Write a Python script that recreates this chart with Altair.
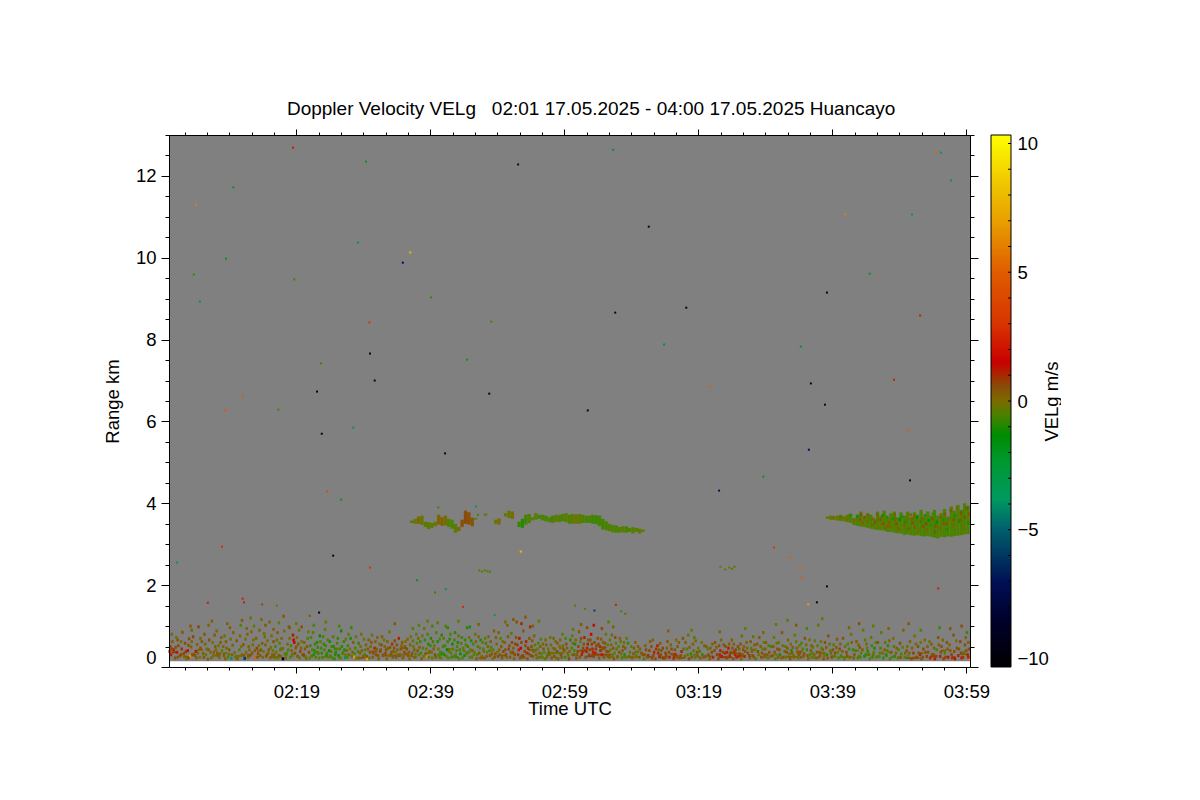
import altair as alt
import pandas as pd

FONT = "Liberation Sans"
T_MAX = 119.55
R_MAX = 13
V_MIN, V_MAX = -10.33, 10.33

stops_v = [-10.33, -8.5, -7, -5, -3.8, -2.4, -1.3, -0.5, 0, 0.6, 1.0, 1.5, 3, 5, 7, 8.5, 10.33]
stops_c = ["#000000", "#00002c", "#001055", "#005f6c", "#009a60", "#009830", "#008c00", "#508000",
           "#7a6a00", "#8a4a08", "#a82800", "#c80000", "#d83400", "#e05c00", "#e8a000", "#f0c800", "#ffff00"]

x_major = [19, 39, 59, 79, 99, 119]
x_labels = ["02:19", "02:39", "02:59", "03:19", "03:39", "03:59"]
x_ticks = [2.33, 5.67, 9, 12.33, 15.67, 19, 22.33, 25.67, 29, 32.33, 35.67, 39, 42.33, 45.67, 49,
           52.33, 55.67, 59, 62.33, 65.67, 69, 72.33, 75.67, 79, 82.33, 85.67, 89, 92.33, 95.67, 99,
           102.33, 105.67, 109, 112.33, 115.67, 119]
y_ticks = [0, 0.5, 1, 1.5, 2, 2.5, 3, 3.5, 4, 4.5, 5, 5.5, 6, 6.5, 7, 7.5, 8, 8.5, 9, 9.5, 10, 10.5, 11,
           11.5, 12, 12.5, 13]
bar_labels = [-10, -5, 0, 5, 10]
bar_ticks = [-10, -9, -8, -7, -6, -5, -4, -3, -2, -1, 0, 1, 2, 3, 4, 5, 6, 7, 8, 9, 10]

# isolated echoes: minutes after 02:00, range km, velocity
sparse = [(18.5,12.69,2),(29.4,12.35,-2),(52.1,12.28,-8),(66.3,12.64,-2),(114.5,12.57,5),(115.2,12.57,-3),
 (116.7,11.89,-3),(9.6,11.72,-2),(4.0,11.3,6),(100.9,11.06,6),(110.9,11.06,-3),(71.6,10.76,-10),(28.2,10.37,-4),
 (36,10.13,8),(34.9,9.88,-7),(8.5,9.98,-2),(3.7,9.59,-1),(104.6,9.61,-2),(18.7,9.47,-1),(4.6,8.93,-4),(39.1,9.03,-1),
 (77.2,8.78,-9),(98.2,9.15,-9),(66.6,8.66,-9),(29.9,8.42,3),(112.1,8.59,2),(48.1,8.44,-1),(30,7.66,-9),(73.9,7.88,-2),
 (94.3,7.83,-2),(22.7,7.42,-1),(44.5,7.51,-2),(108.2,7.02,2),(30.7,7.0,-10),(95.8,6.93,-9),(22.1,6.73,-9),(47.8,6.68,-10),
 (80.7,6.85,5),(97.9,6.41,-8),(11,6.61,5),(8.4,6.27,5),(62.5,6.27,-9),(16.3,6.29,-1),(22.8,5.7,-9),(27.5,5.85,-3),
 (110.3,5.78,5),(95.5,5.31,-7),(41.2,5.22,-9),(82.1,4.31,-7),(88.7,4.65,-2),(110.6,4.56,-9),(23.6,4.29,4),(25.7,4.09,-2),
 (7.9,2.94,2.5),(24.5,2.72,-9),(90.3,2.92,3),(1.2,2.55,-3),(92.7,2.68,5),(30,2.43,3),(94.2,2.43,5),(94.5,2.19,5),
 (95.4,1.53,7),(96.7,1.58,-9),(98.2,1.97,-10),(114.8,1.92,2),(41.3,1.9,-4),(37,2.12,-2),(39.7,1.82,-1),(52.5,2.82,8),
 (46.3,2.36,-0.5),(46.7,2.33,-0.5),(47.1,2.36,-0.7),(47.5,2.34,-0.4),(47.9,2.33,-1),(82.3,2.45,0),(83,2.38,-0.6),
 (83.6,2.43,-0.3),(84,2.4,0.2),(84.4,2.45,-0.6),(45.8,3.92,-3),(46.1,3.72,-1),(40.2,3.9,-1),(11.0,1.67,2),(11.2,1.58,2),
 (5.8,1.57,2),(13.9,1.53,0.6),(16.1,1.5,-0.5),(22.4,1.33,-9.5),(21,1.25,0.4),(43.9,1.47,2.5),(48.6,1.27,-3.5),
 (60.6,1.5,-0.6),(62.1,1.42,-0.4),(63.5,1.38,-6),(66.7,1.52,2),(67.5,1.36,-1),(68.1,1.3,0.3)]

# clutter below about 1.3 km: minutes, km, m/s
noise_a = [(0.2,0.5,0.6),(0.3,0.3,1.3),(0.5,0.62,0.3),(0.7,0.42,1.0),(0.9,0.22,0.5),(1.1,0.72,-0.2),(1.2,0.36,1.3),
 (1.4,0.52,0.6),(1.6,0.27,0.2),(1.9,0.44,0.9),(2.0,0.85,0.4),(2.2,0.33,0.6),(2.4,0.58,0.5),(2.6,0.2,-0.1),(2.8,0.4,1.4),
 (3.0,0.69,0.5),(3.1,0.26,6.5),(3.3,0.49,0.2),(3.6,0.74,0.6),(3.7,0.3,0.4),(4.0,0.38,1.4),(4.2,0.55,0.1),(4.4,0.98,0.7),
 (4.6,0.24,-0.2),(4.9,0.62,0.4),(5.1,0.33,0.2),(5.3,0.8,0.4),(5.6,0.44,-0.1),(5.8,0.19,0.3),(6.0,0.66,0.5),(6.2,0.36,0.1),
 (6.4,1.12,0.3),(6.6,0.27,-0.3),(6.9,0.5,0.3),(7.1,0.88,0.1),(7.2,0.34,0.4),(7.5,0.23,0.0),(7.7,0.6,0.3),(7.9,0.4,-0.4),
 (8.2,0.28,0.4),(8.3,0.76,0.0),(8.6,0.46,0.2),(8.9,0.31,-0.6),(9.1,0.96,0.3),(9.3,0.21,-4),(9.5,0.53,0.1),(9.8,0.35,-0.3),
 (3.5,0.3,0.5),(3.9,0.28,0.4),(6.7,0.36,0.3),(7.3,0.28,0.2),(0.1,0.38,0.7),(1.0,0.48,0.5),(2.5,0.37,0.9),
 (0.4,0.44,0.8),(0.4,0.8,0.2),(1.3,0.24,0.3),(1.3,0.66,0.5),(1.8,0.3,0.7),(1.8,0.62,0.0),(2.3,0.25,0.1),(2.9,0.53,0.4),
 (2.9,0.22,0.6),(3.4,0.62,0.1),(3.4,0.9,0.3),(4.1,0.22,0.3),(4.3,0.34,0.2),(4.7,0.46,0.5),(4.7,0.7,0.1),(5.2,0.24,0.4),
 (5.4,0.56,0.2),(5.5,0.3,-0.2),(5.9,0.42,0.4),(5.9,1.02,0.2),(6.3,0.22,0.1),(6.5,0.6,-0.1),(6.8,0.78,0.3),(7.0,0.42,0.1),
 (7.4,0.52,-0.2),(7.6,0.32,0.3),(7.8,0.72,0.2),(8.1,0.5,0.0),(8.4,0.2,0.2),(8.5,0.62,0.3),(8.8,0.24,-0.2),(9.0,0.42,0.4),
 (9.2,0.68,-0.1),(9.4,0.3,0.3),(9.6,0.84,0.2),(9.9,0.24,0.0)]
noise_b = [(10.1,0.64,0.4),(10.3,0.26,0.0),(10.5,0.42,-0.3),(10.7,1.02,-0.5),(10.9,0.3,0.2),(11.1,0.55,0.4),(11.3,0.21,-6),
 (11.5,0.36,-0.2),(11.7,0.8,0.2),(11.9,0.5,0.1),(12.1,0.28,0.5),(12.2,1.2,-0.2),(12.4,0.34,0.4),(12.6,0.66,0.1),(12.9,0.24,5),
 (13.1,0.46,0.7),(13.3,0.33,0.4),(13.5,0.9,0.2),(13.6,0.28,0.4),(13.9,0.58,0.3),(14.1,0.38,-0.4),(14.3,0.74,0.0),(14.5,0.26,0.3),
 (14.8,0.34,0.2),(15.0,1.1,0.1),(15.2,0.48,-0.3),(15.4,0.3,0.1),(15.6,0.62,0.4),(15.8,0.22,-0.6),(16.0,0.36,-0.2),(16.2,0.84,0.3),
 (16.4,0.28,0.4),(16.6,0.42,-0.5),(16.8,0.7,0.1),(17.0,0.2,-9.5),(17.3,0.32,-0.7),(17.5,0.3,-0.4),(17.7,0.56,0.0),(17.9,0.98,0.4),
 (18.1,0.24,-0.6),(18.3,0.4,0.2),(18.5,0.78,1.4),(18.6,0.66,1.5),(18.7,0.6,1.6),(18.8,0.34,0.4),(19.0,0.5,0.2),(19.2,0.26,0.5),
 (19.4,0.9,-0.2),(19.6,0.38,0.6),(19.8,0.62,-0.3),(14.6,0.3,0.4),(16.7,0.26,0.2),(17.6,0.34,-0.5),
 (10.2,0.2,0.2),(10.6,0.76,0.1),(10.8,0.5,-0.2),(11.2,0.28,0.3),(11.4,0.68,-0.1),(11.8,0.24,0.2),(12.0,0.42,0.2),(12.3,0.86,0.1),
 (12.5,0.54,-0.1),(12.8,0.4,0.3),(13.0,0.7,0.2),(13.2,0.24,0.5),(13.4,0.52,-0.1),(13.7,0.42,0.3),(14.0,0.24,0.1),(14.2,0.82,-0.2),
 (14.4,0.54,0.2),(14.7,0.64,-0.1),(14.9,0.42,0.4),(15.1,0.22,0.1),(15.3,0.76,0.0),(15.5,0.4,-0.2),(15.7,0.3,0.3),(15.9,0.5,-0.5),
 (16.1,0.66,0.1),(16.3,0.22,-0.2),(16.5,0.58,-0.4),(16.9,0.44,0.2),(17.2,0.88,0.0),(17.4,0.22,0.2),(17.8,0.42,-0.6),(18.0,0.7,-0.1),
 (18.2,0.52,-0.4),(18.4,0.28,-0.2),(18.9,0.46,0.3),(19.1,0.72,0.0),(19.3,0.56,0.4),(19.5,0.22,-0.3),(19.7,0.46,0.2),(19.9,0.3,-0.2)]
noise_c = [(20.1,0.3,0.7),(20.3,0.44,0.3),(20.5,0.2,-0.2),(20.7,0.7,-0.6),(20.9,0.36,0.6),(21.1,0.52,-0.8),(21.3,0.27,-1.0),
 (21.5,0.84,-0.4),(21.7,0.4,-1.1),(21.9,0.24,-0.6),(22.1,0.6,-1.2),(22.3,0.33,-0.7),(22.5,0.76,-1.4),(22.7,0.46,-0.9),(22.9,0.23,-0.5),
 (23.1,0.56,-1.0),(23.3,0.92,-0.5),(23.5,0.3,-1.2),(23.7,0.66,-0.6),(23.9,0.4,-1.3),(24.1,0.27,-0.7),(24.3,0.5,-0.9),(24.5,0.74,-0.4),
 (24.7,0.2,-1.0),(24.9,0.36,-1.2),(25.1,0.58,-0.6),(25.3,0.28,-1.3),(25.5,0.44,-0.7),(25.7,0.88,-1.5),(25.9,0.33,-0.4),(26.1,0.62,-1.0),
 (26.3,0.23,-3.5),(26.5,0.4,0.2),(26.7,0.52,-0.8),(26.9,0.3,0.1),(27.1,0.7,-1.2),(27.4,0.36,0.3),(27.6,0.25,7),(27.8,0.46,-0.6),
 (28.0,0.22,0.0),(28.3,0.58,-1.1),(28.5,0.34,0.3),(28.7,0.8,0.0),(29.0,0.26,0.4),(29.3,0.42,-0.4),(29.6,0.2,7),(29.8,0.66,0.2),
 (21.6,0.3,-1.1),(23.6,0.34,-0.8),(24.8,0.3,-1.1),(25.4,0.24,-0.6),
 (20.2,0.6,0.2),(20.4,0.24,-0.3),(20.6,0.5,0.3),(20.8,0.86,-0.3),(21.0,0.22,-0.1),(21.2,0.72,-0.5),(21.4,0.42,-0.6),(21.8,0.56,-0.9),
 (22.0,0.36,-0.4),(22.2,0.48,-1.0),(22.4,0.22,-0.3),(22.6,0.62,-0.4),(22.8,0.34,-1.0),(23.0,0.74,-0.8),(23.2,0.42,-0.5),(23.4,0.52,-0.7),
 (23.8,0.24,-0.3),(24.0,0.62,-1.2),(24.2,0.38,-0.4),(24.4,0.22,-0.8),(24.6,0.5,-1.1),(25.0,0.44,-0.3),(25.2,0.7,-1.0),(25.6,0.22,-0.4),
 (25.8,0.5,-1.1),(26.0,0.36,-0.5),(26.2,0.42,-1.2),(26.4,0.68,-0.4),(26.6,0.24,-0.7),(26.8,0.8,-0.3),(27.0,0.44,-0.2),(27.3,0.26,-0.5),
 (27.5,0.6,0.2),(27.7,0.32,-0.7),(27.9,0.74,-0.3),(28.2,0.38,-0.6),(28.4,0.22,0.2),(28.6,0.5,-0.2),(28.8,0.4,0.3),(29.1,0.68,-0.3),
 (29.2,0.3,-0.7),(29.4,0.54,0.2),(29.5,0.26,0.4),(29.7,0.44,0.3),(29.9,0.22,-0.2)]
noise_d = [(30.0,0.36,0.5),(30.2,0.6,0.4),(30.4,0.24,0.3),(30.7,0.46,1.1),(30.9,0.3,0.4),(31.1,0.72,0.1),(31.3,0.2,0.2),(31.5,0.38,0.6),
 (31.7,0.54,0.7),(31.9,0.28,0.4),(32.1,0.66,-0.2),(32.3,0.34,0.5),(32.5,0.2,0.1),(32.7,0.46,0.4),(32.9,0.86,-0.3),(33.1,0.3,0.4),
 (33.3,0.56,0.9),(33.5,0.38,0.2),(33.7,0.64,0.6),(33.9,0.24,0.4),(34.1,0.42,0.2),(34.3,0.7,1.1),(34.5,0.3,0.5),(34.7,0.52,0.1),
 (34.9,0.22,0.3),(35.1,0.36,0.5),(35.3,0.62,0.0),(35.5,0.44,0.6),(35.7,0.28,0.4),(35.9,0.2,0.1),(36.1,0.74,-0.3),(36.3,0.34,0.4),
 (36.5,0.5,-0.4),(36.7,0.24,0.2),(36.9,0.8,-0.5),(37.1,0.4,0.4),(37.3,0.3,-0.1),(37.5,0.62,-1.0),(37.7,0.2,0.3),(37.9,0.46,-0.6),
 (38.1,0.94,-0.2),(38.3,0.32,0.4),(38.5,0.26,6),(38.7,0.56,-1.1),(38.9,0.38,0.3),(39.1,0.7,-1.2),(39.3,0.22,-0.5),(39.5,0.44,0.2),
 (39.7,0.3,0.5),(39.9,0.84,-0.5),(32.0,0.3,0.4),(33.2,0.36,0.4),(34.4,0.28,0.5),(35.4,0.32,0.4),(36.2,0.28,0.4),
 (30.1,0.5,0.1),(30.3,0.78,-0.1),(30.5,0.34,0.6),(30.8,0.62,0.2),(31.0,0.44,0.3),(31.2,0.28,0.5),(31.4,0.56,-0.1),(31.6,0.42,0.4),
 (31.8,0.74,0.3),(32.2,0.5,0.1),(32.4,0.42,0.5),(32.6,0.62,0.2),(32.8,0.28,-0.1),(33.0,0.48,0.3),(33.4,0.24,0.3),(33.6,0.46,0.5),
 (33.8,0.36,-0.2),(34.0,0.54,0.4),(34.2,0.3,0.1),(34.6,0.44,0.5),(34.8,0.6,0.3),(35.0,0.28,0.2),(35.2,0.5,0.4),(35.6,0.68,0.1),
 (35.8,0.36,0.3),(36.0,0.54,0.1),(36.4,0.64,-0.3),(36.6,0.42,0.3),(36.8,0.32,-0.6),(37.0,0.58,-0.3),(37.2,0.7,0.1),(37.4,0.48,0.2),
 (37.6,0.34,-0.8),(37.8,0.76,-0.2),(38.0,0.26,-0.6),(38.2,0.66,-0.8),(38.4,0.44,-0.3),(38.6,0.8,-0.6),(38.8,0.24,-0.2),(39.0,0.52,-0.9),
 (39.2,0.36,-0.2),(39.4,0.62,-0.9),(39.6,0.52,-0.3),(39.8,0.24,0.3)]
noise_e = [(40.1,0.62,-1.1),(40.3,0.24,-0.4),(40.5,0.36,-0.8),(40.7,0.78,-1.2),(40.9,0.5,-0.6),(41.1,0.3,-1.2),(41.3,1.0,-0.5),
 (41.5,0.42,-1.3),(41.7,0.22,-0.5),(41.9,0.68,-1.1),(42.1,0.34,-0.7),(42.3,0.56,-1.4),(42.5,0.26,-0.3),(42.7,0.84,-1.1),(42.9,0.4,-0.8),
 (43.1,0.6,-1.2),(43.3,0.2,-0.3),(43.5,0.32,-1.4),(43.7,0.72,-0.8),(43.9,0.46,-0.6),(44.1,0.28,-1.6),(44.3,0.54,-0.5),(44.5,0.96,-1.2),
 (44.7,0.36,-0.4),(44.9,0.24,-0.6),(45.1,0.64,-1.2),(45.3,0.4,0.2),(45.5,0.3,-0.5),(45.7,0.8,-0.2),(45.9,0.2,0.3),(46.1,0.5,-0.6),
 (46.3,0.34,0.4),(46.5,0.66,-1.1),(46.7,0.26,0.0),(46.9,0.44,-0.5),(47.1,0.22,0.3),(47.3,0.58,-1.0),(47.5,0.36,-0.4),(47.7,0.74,0.1),
 (47.9,0.28,0.5),(48.1,0.48,-0.6),(48.3,0.2,-0.2),(48.5,0.88,0.3),(48.7,0.32,0.4),(48.9,0.56,0.1),(49.1,0.26,0.6),(49.3,0.42,0.2),
 (49.5,0.7,-0.4),(49.7,0.22,0.4),(49.9,0.38,0.6),
 (40.2,0.44,-0.3),(40.4,0.68,-0.6),(40.6,0.22,-0.2),(40.8,0.34,-1.0),(41.0,0.7,-0.3),(41.2,0.52,-0.9),(41.4,0.26,-0.4),(41.6,0.62,-0.7),
 (41.8,0.38,-0.3),(42.0,0.8,-0.6),(42.2,0.24,-0.9),(42.4,0.44,-0.3),(42.6,0.66,-0.8),(42.8,0.3,-0.4),(43.0,0.5,-0.6),(43.2,0.76,-0.3),
 (43.4,0.42,-0.9),(43.6,0.58,-0.4),(43.8,0.22,-0.6),(44.0,0.4,-0.2),(44.2,0.66,-1.0),(44.4,0.32,-0.3),(44.6,0.5,-0.9),(44.8,0.72,-0.2),
 (45.0,0.42,-0.6),(45.2,0.24,-0.2),(45.4,0.56,-0.7),(45.6,0.36,-0.2),(45.8,0.62,0.2),(46.0,0.3,-0.5),(46.2,0.74,0.1),(46.4,0.46,-0.4),
 (46.6,0.22,0.2),(46.8,0.6,-0.2),(47.0,0.38,0.1),(47.2,0.7,-0.3),(47.4,0.26,0.3),(47.6,0.5,0.2),(47.8,0.4,-0.6),(48.0,0.62,0.3),
 (48.2,0.32,0.4),(48.4,0.42,-0.2),(48.6,0.24,0.5),(48.8,0.72,0.2),(49.0,0.36,-0.3),(49.2,0.84,0.3),(49.4,0.3,0.4),(49.6,0.5,0.3),(49.8,0.62,0.1)]
noise_f = [(50.1,0.6,0.2),(50.3,0.3,0.6),(50.5,1.02,0.2),(50.7,0.44,0.7),(50.9,0.24,0.4),(51.1,0.82,-0.3),(51.3,0.36,0.6),(51.5,0.2,0.1),
 (51.7,0.56,0.8),(51.9,1.1,0.5),(52.1,0.3,0.9),(52.3,0.7,1.4),(52.5,0.46,1.5),(52.7,0.24,0.5),(52.9,0.88,0.4),(53.1,0.38,0.7),
 (53.3,0.62,1.1),(53.5,0.2,0.4),(53.7,0.32,0.6),(53.9,0.98,1.0),(54.1,0.5,0.5),(54.3,0.26,0.4),(54.5,0.76,0.2),(54.7,0.4,-0.4),
 (54.9,0.22,-0.2),(55.1,0.58,-0.8),(55.3,0.34,0.3),(55.5,0.68,-0.5),(55.7,0.24,-0.4),(55.9,0.44,0.3),(56.1,0.2,-0.5),(56.3,0.54,0.2),
 (56.5,0.3,-1.0),(56.7,0.36,0.4),(56.9,0.72,-0.6),(57.1,0.22,0.4),(57.3,0.46,-0.3),(57.5,0.26,0.5),(57.7,0.62,0.2),(57.9,0.38,0.6),
 (58.1,0.2,0.3),(58.3,0.5,-0.2),(58.5,0.3,0.5),(58.7,0.8,-0.4),(58.9,0.42,0.4),(59.1,0.24,-1.0),(59.3,0.56,0.4),(59.5,0.34,0.2),
 (59.7,0.2,0.7),(59.9,0.66,-1.2),(52.2,0.42,1.2),(53.4,0.34,0.8),(52.8,0.28,0.6),(53.0,0.24,0.5),
 (50.2,0.42,0.4),(50.4,0.24,0.2),(50.6,0.74,0.3),(50.8,0.52,0.5),(51.0,0.36,0.2),(51.2,0.6,0.6),(51.4,0.46,0.3),(51.6,0.3,0.5),
 (51.8,0.72,0.4),(52.0,0.54,0.8),(52.4,0.22,0.4),(52.6,0.6,0.6),(53.2,0.52,0.5),(53.6,0.46,0.9),(53.8,0.7,0.4),(54.0,0.28,0.6),
 (54.2,0.64,0.3),(54.4,0.38,0.2),(54.6,0.54,-0.2),(54.8,0.3,0.2),(55.0,0.44,-0.4),(55.2,0.24,0.1),(55.4,0.5,0.2),(55.6,0.32,-0.6),
 (55.8,0.56,0.1),(56.0,0.36,-0.3),(56.2,0.66,0.1),(56.4,0.24,0.2),(56.6,0.44,-0.4),(56.8,0.3,0.2),(57.0,0.54,0.0),(57.2,0.34,-0.2),
 (57.4,0.7,0.2),(57.6,0.44,0.3),(57.8,0.22,-0.2),(58.0,0.58,0.3),(58.2,0.34,-0.3),(58.4,0.66,0.1),(58.6,0.24,0.3),(58.8,0.52,-0.3),
 (59.0,0.4,0.4),(59.2,0.7,-0.6),(59.4,0.46,0.2),(59.6,0.28,-0.4),(59.8,0.38,0.2)]
noise_g = [(60.1,0.46,-0.6),(60.2,0.76,-0.3),(60.4,0.3,0.4),(60.6,0.56,-1.2),(60.8,0.22,0.4),(61.0,0.38,0.7),(61.2,0.86,0.3),(61.4,0.62,-0.4),
 (61.6,0.3,1.1),(61.8,0.46,0.7),(62.0,0.72,1.0),(62.2,0.24,0.5),(62.3,0.38,1.3),(62.5,0.56,1.1),(62.7,0.3,0.7),(62.9,0.66,0.4),
 (63.0,0.8,1.6),(63.2,0.44,1.1),(63.4,0.26,0.6),(63.6,0.34,1.3),(63.8,0.52,0.7),(64.0,0.7,0.4),(64.2,0.22,0.4),(64.4,0.4,1.0),
 (64.6,0.3,1.3),(64.8,0.6,0.3),(65.0,0.46,0.6),(65.2,0.8,-0.2),(65.4,0.26,0.2),(65.6,0.38,0.5),(65.8,0.66,-0.4),(66.0,0.54,0.2),
 (66.2,0.3,-0.4),(66.4,0.2,0.3),(66.6,0.72,0.5),(66.8,0.44,-0.6),(67.0,0.26,-0.3),(67.2,0.36,0.4),(67.4,0.62,-0.6),(67.6,0.22,-0.5),
 (67.8,0.5,0.2),(68.0,0.3,-1.1),(68.2,0.24,-0.4),(68.5,0.58,-1.0),(68.8,0.36,-0.5),(69.1,0.22,0.3),(69.4,0.46,0.5),(69.7,0.28,-0.6),
 (62.4,0.46,1.0),(63.3,0.36,1.2),(64.3,0.5,0.9),(61.7,0.36,1.2),(62.8,0.42,0.7),(63.9,0.3,0.5),(60.9,0.3,0.3),
 (60.3,0.58,0.2),(60.5,0.4,-0.8),(60.7,0.66,0.1),(61.1,0.5,0.5),(61.3,0.24,0.4),(61.5,0.7,0.6),(61.9,0.56,0.5),(62.1,0.4,0.8),
 (62.6,0.66,0.5),(63.1,0.56,0.7),(63.5,0.6,0.6),(63.7,0.44,0.8),(64.1,0.56,0.6),(64.5,0.68,0.3),(64.7,0.44,0.5),(64.9,0.24,0.4),
 (65.1,0.58,0.3),(65.3,0.38,0.6),(65.5,0.54,-0.2),(65.7,0.24,0.3),(65.9,0.42,-0.3),(66.1,0.78,0.1),(66.3,0.46,0.4),(66.5,0.34,-0.2),
 (66.7,0.58,-0.2),(66.9,0.24,0.3),(67.1,0.5,-0.3),(67.3,0.7,0.2),(67.5,0.32,-0.2),(67.7,0.4,0.3),(67.9,0.6,-0.2),(68.1,0.46,0.3),
 (68.3,0.7,-0.2),(68.7,0.26,0.2),(69.0,0.5,-0.4),(69.3,0.32,0.3),(69.6,0.6,0.1),(69.9,0.38,-0.3)]
noise_h = [(70.0,0.5,0.2),(70.2,0.24,0.5),(70.5,0.34,0.4),(70.9,0.2,-0.6),(71.2,0.42,0.6),(71.5,0.28,1.1),(71.8,0.62,0.3),(72.1,0.22,0.7),
 (72.4,0.36,1.2),(72.6,0.2,0.4),(72.9,0.52,1.3),(73.2,0.26,1.0),(73.5,0.4,0.4),(73.8,0.22,1.1),(74.1,0.34,0.7),(74.4,0.62,0.4),
 (74.7,0.24,1.2),(75.0,0.44,0.6),(75.3,0.2,0.5),(75.6,0.3,1.3),(75.9,0.5,0.3),(76.2,0.22,0.6),(76.5,0.38,1.0),(76.7,0.7,0.4),
 (77.0,0.26,0.3),(77.3,0.44,-0.6),(77.6,0.2,0.5),(77.9,0.32,-1.1),(78.2,0.56,0.2),(78.5,0.24,-0.5),(78.8,0.36,0.6),(79.0,0.46,-0.7),
 (79.3,0.22,0.4),(79.6,0.3,-1.1),(79.9,0.52,0.3),(73.0,0.34,1.1),(74.2,0.28,0.7),(75.4,0.24,1.0),(71.0,0.3,0.4),(76.0,0.26,0.4),
 (70.3,0.44,0.3),(70.7,0.3,0.5),(71.1,0.52,0.2),(71.4,0.24,0.4),(71.7,0.4,0.6),(72.0,0.5,0.4),(72.3,0.28,0.6),(72.7,0.44,0.8),
 (73.1,0.42,0.4),(73.4,0.3,0.6),(73.7,0.46,0.7),(74.0,0.22,0.5),(74.3,0.46,0.3),(74.6,0.36,0.6),(74.9,0.54,0.2),(75.2,0.3,0.4),
 (75.5,0.42,0.5),(75.8,0.24,0.4),(76.1,0.6,0.2),(76.4,0.28,0.5),(76.8,0.44,0.1),(77.1,0.6,0.3),(77.4,0.3,-0.3),(77.7,0.48,0.2),
 (78.0,0.24,0.4),(78.3,0.4,-0.4),(78.6,0.64,0.1),(78.9,0.26,0.3),(79.2,0.38,0.2),(79.5,0.6,-0.3),(79.8,0.24,0.4),
 (77.5,0.78,-0.3),(73.3,0.58,0.3),(75.7,0.66,0.1),(72.2,0.66,0.2),(78.4,0.72,-0.4)]
noise_i = [(80.1,0.26,0.4),(80.4,0.44,-0.5),(80.7,0.2,0.3),(81.0,0.36,0.6),(81.2,0.24,1.1),(81.5,0.6,0.4),(81.8,0.3,0.7),(82.0,0.2,0.5),
 (82.3,0.4,1.2),(82.5,0.26,1.3),(82.8,0.54,0.5),(83.0,0.34,1.0),(83.2,0.22,0.6),(83.5,0.46,1.3),(83.7,0.28,0.9),(84.0,0.66,0.3),
 (84.2,0.2,0.5),(84.4,0.38,1.1),(84.7,0.24,1.3),(84.9,0.5,0.4),(85.2,0.32,0.9),(85.4,0.2,0.2),(85.7,0.42,0.5),(85.9,0.26,1.0),
 (86.2,0.6,0.2),(86.4,0.34,0.6),(86.7,0.22,0.3),(86.9,0.46,-0.5),(87.1,0.28,0.6),(87.4,0.54,0.4),(87.6,0.2,-0.2),(87.9,0.38,0.6),
 (88.1,0.72,0.3),(88.4,0.24,0.5),(88.6,0.44,-0.4),(88.9,0.3,0.4),(89.1,0.6,0.2),(89.4,0.22,-0.6),(89.6,0.36,0.4),(89.9,0.5,-1.0),
 (83.3,0.36,1.1),(84.5,0.3,1.0),(85.0,0.26,1.2),(82.2,0.3,1.0),
 (80.2,0.5,0.2),(80.5,0.3,0.5),(80.8,0.46,0.3),(81.1,0.56,0.2),(81.4,0.4,0.5),(81.7,0.48,0.3),(82.1,0.52,0.4),(82.4,0.66,0.2),
 (82.7,0.36,0.7),(83.1,0.5,0.4),(83.4,0.24,0.5),(83.6,0.56,0.3),(83.9,0.36,0.6),(84.1,0.46,0.4),(84.3,0.56,0.2),(84.6,0.42,0.6),
 (84.8,0.32,0.4),(85.1,0.44,0.3),(85.3,0.56,0.4),(85.6,0.3,0.5),(85.8,0.5,0.2),(86.0,0.38,0.4),(86.3,0.46,0.2),(86.6,0.28,0.6),
 (86.8,0.62,0.3),(87.0,0.38,0.2),(87.3,0.24,0.4),(87.5,0.42,-0.2),(87.8,0.56,0.3),(88.0,0.3,-0.3),(88.3,0.5,0.2),(88.5,0.34,0.4),
 (88.8,0.6,-0.2),(89.0,0.44,0.3),(89.3,0.3,0.4),(89.5,0.52,-0.2),(89.8,0.26,0.3),(85.5,0.76,0.1),(87.2,0.74,-0.3),(88.7,0.84,0.1)]
noise_j = [(90.1,0.28,0.4),(90.3,0.72,-0.4),(90.5,0.2,-0.5),(90.8,0.44,0.5),(91.0,0.6,-0.2),(91.2,0.3,-1.1),(91.5,0.84,0.4),(91.7,0.24,0.4),
 (92.0,0.5,-0.5),(92.2,0.36,0.5),(92.4,0.66,0.1),(92.7,0.2,0.4),(92.9,0.4,-1.2),(93.2,0.28,-0.5),(93.4,0.78,-0.4),(93.7,0.46,0.3),
 (93.9,0.22,-0.3),(94.2,0.34,0.4),(94.4,0.58,-0.8),(94.7,0.26,0.3),(94.9,0.7,0.4),(95.2,0.42,-1.0),(95.4,0.2,0.2),(95.7,0.3,-0.6),
 (95.9,0.52,0.4),(96.2,0.24,-0.4),(96.4,0.64,-0.3),(96.7,0.36,0.4),(96.9,1.02,-0.4),(97.2,0.28,0.2),(97.4,0.46,-0.6),(97.7,0.2,0.4),
 (97.9,0.6,0.4),(98.2,0.3,-1.1),(98.4,0.76,0.5),(98.7,0.4,-0.5),(98.9,0.24,0.5),(99.2,0.54,-0.4),(99.4,0.34,0.5),(99.7,0.68,0.3),
 (99.9,0.22,-0.5),(93.0,0.34,0.4),(94.0,0.3,0.4),(96.0,0.34,-0.7),(97.0,0.24,0.3),
 (90.2,0.5,0.2),(90.4,0.36,0.4),(90.7,0.58,-0.2),(90.9,0.24,0.3),(91.1,0.42,0.5),(91.4,0.22,0.2),(91.6,0.52,-0.3),(91.9,0.38,0.3),
 (92.1,0.24,-0.4),(92.3,0.46,0.3),(92.6,0.32,0.2),(92.8,0.56,-0.2),(93.1,0.48,0.3),(93.3,0.24,0.2),(93.6,0.62,-0.3),(93.8,0.36,0.4),
 (94.1,0.52,-0.2),(94.3,0.24,0.3),(94.6,0.44,-0.4),(94.8,0.32,0.5),(95.1,0.54,0.1),(95.3,0.28,0.3),(95.6,0.66,-0.2),(95.8,0.4,0.3),
 (96.1,0.48,-0.5),(96.3,0.3,0.2),(96.6,0.22,0.3),(96.8,0.52,-0.3),(97.1,0.36,0.4),(97.3,0.62,-0.2),(97.6,0.42,0.2),(97.8,0.28,-0.4),
 (98.1,0.48,0.2),(98.3,0.22,0.4),(98.6,0.56,-0.3),(98.8,0.34,0.2),(99.1,0.42,0.4),(99.3,0.26,-0.6),(99.6,0.48,0.3),(99.8,0.36,-0.2)]
noise_k = [(100.1,0.44,0.6),(100.3,0.28,-0.5),(100.6,0.7,0.4),(100.8,0.2,-0.3),(101.1,0.36,0.5),(101.3,0.56,-0.7),(101.6,0.24,0.2),(101.8,0.8,-0.3),
 (102.1,0.42,-1.0),(102.3,0.3,0.4),(102.6,0.62,0.3),(102.8,0.22,-0.6),(103.1,0.48,0.4),(103.3,0.34,-0.5),(103.6,0.9,-0.3),(103.8,0.26,-1.2),
 (104.1,0.56,0.1),(104.3,0.38,-1.1),(104.6,0.2,-0.4),(104.8,0.72,-0.5),(105.1,0.3,-0.8),(105.3,0.46,-1.2),(105.6,0.24,-0.3),(105.8,0.6,0.4),
 (106.1,0.34,-0.6),(106.3,0.84,-0.3),(106.6,0.22,-1.0),(106.8,0.42,0.3),(107.1,0.28,-0.6),(107.3,0.52,-1.1),(107.6,0.2,-0.4),(107.8,0.36,0.4),
 (108.1,0.7,0.0),(108.3,0.26,-1.2),(108.6,0.46,0.3),(108.8,0.22,-0.5),(109.1,0.58,0.5),(109.3,0.32,-0.6),(109.6,0.9,0.2),(109.8,0.24,-0.7),
 (104.0,0.3,-1.0),(105.0,0.24,-1.0),(107.0,0.3,-1.1),(103.0,0.26,-0.8),
 (100.2,0.56,0.2),(100.5,0.38,0.3),(100.9,0.5,-0.2),(101.2,0.28,0.3),(101.5,0.44,-0.5),(101.9,0.6,0.1),(102.2,0.22,0.3),(102.5,0.4,-0.6),
 (102.9,0.54,0.2),(103.2,0.24,-0.4),(103.5,0.42,0.3),(103.9,0.66,-0.4),(104.2,0.46,-0.6),(104.5,0.3,0.2),(104.9,0.52,-0.7),(105.2,0.36,-0.3),
 (105.5,0.6,-0.6),(105.9,0.26,-0.4),(106.2,0.46,-0.8),(106.5,0.34,0.2),(106.9,0.6,-0.4),(107.2,0.4,-0.3),(107.5,0.64,0.1),(107.9,0.24,-0.6),
 (108.2,0.5,-0.4),(108.5,0.34,0.2),(108.9,0.42,-0.6),(109.2,0.24,0.3),(109.5,0.48,-0.3),(109.9,0.34,0.3)]
noise_l = [(110.1,0.4,0.4),(110.3,0.26,-0.5),(110.6,0.62,0.2),(110.8,0.2,0.5),(111.1,0.34,0.7),(111.3,0.76,-0.3),(111.6,0.24,0.6),(111.8,0.5,0.4),
 (112.1,0.3,1.0),(112.3,0.2,0.4),(112.6,0.44,0.6),(112.8,0.66,0.1),(113.1,0.26,0.7),(113.3,0.36,0.4),(113.6,0.22,1.2),(113.8,0.56,0.3),
 (114.1,0.3,0.6),(114.3,0.2,1.3),(114.6,0.42,-0.6),(114.8,0.72,0.4),(115.1,0.26,1.1),(115.3,0.5,0.5),(115.6,0.2,0.7),(115.8,0.34,-0.5),
 (116.1,0.6,0.4),(116.3,0.24,1.3),(116.6,0.4,0.4),(116.8,0.3,0.7),(117.1,0.78,0.5),(117.3,0.2,1.4),(117.6,0.46,0.4),(117.8,0.28,1.0),
 (118.1,0.62,0.6),(118.3,0.22,1.3),(118.6,0.36,-0.6),(118.8,0.54,0.5),(119.1,0.84,-1.0),(119.2,0.3,1.1),(119.4,0.2,6),(119.4,0.44,0.6),
 (110.2,0.5,-0.2),(110.5,0.34,0.3),(110.9,0.46,0.2),(111.2,0.22,0.4),(111.5,0.56,0.1),(111.9,0.34,0.5),(112.2,0.6,-0.2),(112.5,0.24,0.4),
 (112.9,0.36,0.5),(113.2,0.5,0.2),(113.5,0.62,-0.2),(113.9,0.3,0.5),(114.2,0.46,0.3),(114.5,0.26,0.7),(114.9,0.54,0.2),(115.2,0.36,0.5),
 (115.5,0.66,0.1),(115.9,0.24,0.7),(116.2,0.44,0.3),(116.5,0.54,0.2),(116.9,0.22,0.9),(117.2,0.38,0.5),(117.5,0.64,-0.2),(117.9,0.44,0.4),
 (118.2,0.34,0.7),(118.5,0.24,0.9),(118.9,0.72,0.2),(119.0,0.4,0.5),(119.3,0.6,0.3),(119.3,0.24,1.3)]
# taller clutter humps
noise_m = [(3.2,1.0,0.3),(8.7,1.06,0.2),(10.9,1.14,0.4),(11.6,0.94,0.2),(12.7,1.0,-0.3),(13.8,1.16,0.1),(14.4,1.02,0.3),(15.6,0.92,0.2),
 (16.4,1.08,-0.2),(17.1,1.24,0.4),(18.0,0.96,0.3),(19.0,1.06,-0.1),(19.8,0.98,0.5),(21.6,1.02,-0.6),(23.4,1.1,-0.3),(25.4,1.0,-0.5),
 (27.2,0.96,-1.0),(33.7,1.06,0.3),(36.4,0.94,-0.3),(37.3,1.02,-0.6),(38.6,1.12,-0.2),(39.3,1.0,-0.8),(40.1,1.08,-0.3),(41.6,0.96,-1.1),
 (43.2,1.12,-0.6),(44.9,0.98,-1.1),(46.2,1.04,0.2),(50.2,1.1,0.1),(51.4,1.16,0.3),(52.6,1.06,1.1),(53.2,1.22,0.4),(54.3,1.0,0.3),
 (55.2,1.12,-0.3),(60.3,0.92,-0.4),(61.5,1.04,0.3),(62.4,0.96,0.5),(63.4,1.02,1.4),(64.6,0.94,0.6),(65.6,1.1,-0.5),(66.3,0.98,0.2),
 (74.5,0.88,0.2),(78.0,0.9,-0.3),(82.2,0.86,0.2),(86.0,0.94,-0.4),(90.6,1.04,-0.3),(92.3,1.14,-0.5),(93.6,1.02,0.3),(95.2,0.94,-0.6),
 (97.5,1.18,-0.3),(101.5,0.96,0.2),(103.0,1.06,0.5),(105.1,1.0,-0.4),(107.4,0.94,0.2),(110.4,1.06,0.3),(112.2,0.9,-0.6),(115.0,0.96,-1.0),
 (116.6,0.94,0.4),(118.3,1.0,0.5)]

# short runs of adjacent cells close to the ground: start, end, range, velocity
run_a = [0.4, 2.2, 4.2, 6.4, 8.0, 9.8, 11.6, 13.1, 15.0, 16.6, 18.2, 20.0, 21.6, 23.0, 24.6, 26.1, 28.4, 30.2, 31.8, 33.0, 34.6, 36.4,
         38.2, 40.0, 41.4, 42.6, 44.2, 46.2, 47.6, 49.4, 51.0, 52.4, 53.6, 55.2, 56.5, 58.2, 60.0, 61.2, 62.4, 63.0, 64.4, 65.6, 67.5,
         69.4, 71.4, 73.0, 74.8, 76.4, 78.2, 80.4, 82.0, 83.6, 85.0, 86.8, 88.6, 90.4, 92.0, 93.8, 95.6, 97.2, 98.8, 100.0, 102.2, 103.8,
         105.4, 107.2, 108.8, 110.0, 111.8, 113.6, 115.2, 116.8, 118.2]
run_b = [1.3, 3.0, 5.1, 7.6, 8.7, 11.0, 12.4, 13.9, 16.2, 17.2, 19.0, 20.6, 22.4, 24.3, 25.3, 26.8, 29.2, 31.1, 32.6, 34.6, 35.6, 37.0,
         39.0, 40.8, 42.2, 43.2, 45.0, 47.0, 48.3, 50.3, 51.7, 53.0, 54.8, 55.9, 59.0, 59.0, 60.9, 62.0, 63.4, 66.0, 65.3, 66.5, 70.0,
         70.2, 72.0, 74.4, 75.6, 77.0, 79.0, 81.0, 84.0, 84.4, 85.8, 87.6, 89.2, 91.0, 94.0, 94.6, 96.2, 98.0, 99.6, 102.0, 103.0, 104.4,
         106.2, 107.8, 109.4, 112.0, 112.6, 114.4, 116.0, 117.4, 119.0]
run_r = [0.36, 0.25, 0.42, 0.28, 0.34, 0.27, 0.3, 0.4, 0.24, 0.46, 0.32, 0.26, 0.36, 0.25, 0.44, 0.3, 0.22, 0.38, 0.28, 0.28, 0.46, 0.24,
         0.34, 0.3, 0.44, 0.24, 0.36, 0.22, 0.4, 0.28, 0.33, 0.26, 0.42, 0.24, 0.34, 0.46, 0.3, 0.4, 0.26, 0.3, 0.48, 0.24, 0.24,
         0.36, 0.25, 0.23, 0.32, 0.22, 0.3, 0.26, 0.24, 0.34, 0.27, 0.42, 0.24, 0.3, 0.25, 0.38, 0.23, 0.34, 0.26, 0.24, 0.4, 0.3,
         0.25, 0.36, 0.23, 0.22, 0.34, 0.26, 0.4, 0.24, 0.32]
run_v = [0.9, 0.3, 0.2, 0.2, 0.0, -0.2, 0.3, 0.2, 0.4, -0.3, -0.1, 0.3, -0.9, -0.5, -1.1, -0.2, 0.2, 0.4, 0.5, 0.4, 0.2, 0.1,
         -0.3, -1.0, -0.4, -1.2, -0.4, 0.2, -0.1, 0.4, 0.3, 0.7, 0.4, -0.3, -0.2, 0.1, -0.3, 0.5, 0.8, 0.7, 0.5, -0.2, 0.0,
         0.3, 0.5, 0.4, 0.7, 0.3, -0.3, 0.4, 0.9, 0.6, 0.4, 0.2, 0.3, -0.2, 0.2, 0.3, -0.4, 0.2, 0.1, -0.4, -0.3, -0.8,
         -1.0, -0.3, 0.2, 0.6, 0.3, 0.7, 0.4, 0.8, 0.4]

# low cloud layer near 3.5 km: column start, lower edge, upper edge, velocity
band1_t = [36,36.5,37,37.5,38,38.5,39,39.5,40,40.5,41,41.5,42,42.5,43,43.5,44,44.5,45,45.5,47,48.5,49,50,50.5,51,
           52,52.5,53,53.5,54,54.5,55,55.5,56,56.5,57,57.5,58,58.5,59,59.5,60,60.5,61,61.5,62,62.5,63,63.5,64,64.5,
           65,65.5,66,66.5,67,67.5,68,68.5,69,69.5,70,70.5]
band1_lo = [3.52,3.5,3.5,3.47,3.42,3.37,3.4,3.44,3.48,3.45,3.46,3.42,3.38,3.28,3.32,3.42,3.5,3.48,3.44,3.6,3.7,3.5,3.48,3.68,3.64,3.62,
            3.42,3.4,3.48,3.52,3.58,3.6,3.62,3.58,3.56,3.54,3.52,3.54,3.54,3.56,3.54,3.5,3.5,3.5,3.5,3.52,3.52,3.52,3.5,3.49,3.44,3.36,
            3.34,3.32,3.29,3.28,3.28,3.29,3.28,3.3,3.26,3.3,3.26,3.3]
band1_hi = [3.58,3.62,3.68,3.7,3.55,3.54,3.52,3.55,3.72,3.66,3.7,3.62,3.6,3.5,3.42,3.6,3.82,3.78,3.65,3.64,3.75,3.6,3.63,3.76,3.82,3.8,
            3.55,3.62,3.72,3.74,3.66,3.76,3.72,3.72,3.7,3.66,3.7,3.72,3.72,3.74,3.76,3.72,3.74,3.73,3.74,3.72,3.7,3.7,3.72,3.71,3.7,3.62,
            3.56,3.5,3.47,3.46,3.42,3.44,3.44,3.4,3.42,3.4,3.38,3.36]
band1_v = [0.2,-0.4,0.1,-0.3,-0.5,-0.2,-0.6,-0.1,0.1,0.2,-0.1,-0.5,-0.6,-0.4,0.1,0.5,0.6,0.55,0.45,-0.3,-0.4,-0.2,0,-0.2,-0.3,0,
           -1,-1.1,-0.7,-0.6,-0.3,-0.5,-0.7,-0.6,-0.8,-0.5,-0.7,-0.3,-0.5,-0.6,-0.4,-0.6,-0.4,-0.2,-0.4,-0.5,-0.7,-0.6,-0.8,-0.9,-0.7,-0.8,
           -0.7,-0.5,-0.6,-0.5,-0.6,-0.4,-0.6,-0.5,-0.4,-0.5,-0.3,-0.5]

# thicker layer after 03:38: column start, lower edge, upper edge, velocity
band2_t =  [98,98.5,99,99.5,100,100.5,101,101.5,102,102.5,103,103.5,104,104.5,105,105.5,106,106.5,107,107.5,108,108.5,109,109.5,
            110,110.5,111,111.5,112,112.5,113,113.5,114,114.5,115,115.5,116,116.5,117,117.5,118,118.5,119]
band2_lo = [3.62,3.6,3.6,3.58,3.57,3.56,3.54,3.52,3.47,3.45,3.43,3.42,3.4,3.38,3.36,3.35,3.34,3.33,3.3,3.3,3.28,3.27,3.26,3.23,
            3.24,3.22,3.21,3.22,3.2,3.19,3.2,3.18,3.16,3.14,3.18,3.17,3.19,3.18,3.2,3.21,3.22,3.24,3.25]
band2_hi = [3.68,3.7,3.69,3.7,3.72,3.68,3.72,3.75,3.64,3.72,3.8,3.66,3.76,3.72,3.62,3.8,3.7,3.82,3.64,3.76,3.8,3.66,3.78,3.7,
            3.8,3.66,3.78,3.72,3.84,3.66,3.8,3.7,3.84,3.7,3.76,3.86,3.68,3.92,3.82,3.96,3.84,4.0,3.94]
band2_v = [-0.3,-0.3,-0.4,-0.4,-0.5,-0.5,-0.4,-0.5,-0.5,-0.6,-0.5,-0.6,-0.5,-0.5,-0.6,-0.5,-0.6,-0.5,-0.6,-0.5,-0.6,-0.5,-0.6,-0.6,
           -0.5,-0.7,-0.6,-0.5,-0.6,-0.7,-0.5,-0.6,-0.7,-0.6,-0.5,-0.6,-0.7,-0.5,-0.6,-0.5,-0.7,-0.6,-0.5]
# brown and green mottling inside that layer
band2_spots = [(99.1,3.64,0.2),(100.3,3.66,0.3),(101.2,3.62,0.1),(101.6,3.7,-1.1),(102.2,3.58,0.2),(102.7,3.68,-1.2),(103.1,3.6,0.4),(103.5,3.52,0.3),
 (103.8,3.66,0.5),(104.2,3.56,0.2),(104.4,3.7,0.3),(104.9,3.48,0.3),(105.1,3.62,0.1),(105.4,3.54,0.4),(105.7,3.72,0.2),(106.1,3.44,-0.1),
 (106.3,3.6,0.4),(106.6,3.5,0.5),(106.9,3.4,0.3),(107.2,3.66,-1.1),(107.5,3.54,0.3),(107.8,3.42,0.1),(108.1,3.62,-1.2),(108.3,3.72,0.3),
 (108.6,3.5,0.5),(108.9,3.38,0.3),(109.1,3.6,-1.3),(109.4,3.68,-1.1),(109.7,3.46,0.2),(110.1,3.6,0.2),(110.4,3.38,0.4),(110.7,3.72,0.1),
 (111.0,3.52,0.5),(111.3,3.42,0.3),(111.6,3.66,-1.3),(111.9,3.32,0.1),(112.2,3.56,-1.2),(112.5,3.44,0.5),(112.8,3.7,-1.1),(113.1,3.36,0.2),
 (113.4,3.58,-1.3),(113.7,3.46,-1.1),(114.0,3.74,-0.8),(114.3,3.3,0.4),(114.6,3.54,-1.3),(114.9,3.4,0.2),(115.2,3.66,0.4),(115.5,3.5,0.3),
 (115.8,3.74,0.5),(116.1,3.36,-1.1),(116.4,3.6,0.1),(116.7,3.82,0.4),(117.0,3.46,0.2),(117.3,3.7,-1.2),(117.6,3.88,0.2),(117.9,3.56,-1.2),
 (118.2,3.76,0.6),(118.5,3.42,0.1),(118.8,3.66,0.5),(119.1,3.88,0.6),(119.3,3.52,-1.2),(119.4,3.74,0.4),(106.5,3.7,-1.2),(110.9,3.62,0.3),
 (112.4,3.62,0.3),(113.9,3.62,0.5),(115.6,3.6,-1.2),(117.1,3.6,0.5),(118.1,3.6,0.4),(104.7,3.6,-1.0),(103.3,3.72,0.6),(105.9,3.6,0.3),
 (107.4,3.44,0.3),(108.4,3.6,0.2),(109.9,3.54,-1.2),(111.2,3.7,0.2),(113.0,3.5,0.6),(114.4,3.44,0.4),(116.0,3.5,0.5),(118.4,3.3,-0.2)]

rows = (noise_a + noise_b + noise_c + noise_d + noise_e + noise_f + noise_g + noise_h + noise_i + noise_j + noise_k + noise_l
        + noise_m + band2_spots)
points = pd.DataFrame(rows, columns=["t", "r", "v"])
lone = pd.DataFrame(sparse, columns=["t", "r", "v"])
runs = pd.DataFrame({"t": run_a, "t2": run_b, "r": run_r, "v": run_v})
band1 = pd.DataFrame({"t": band1_t, "t2": [a + 0.5 for a in band1_t], "lo": band1_lo, "hi": band1_hi, "v": band1_v})
band2 = pd.DataFrame({"t": band2_t, "t2": [a + 0.5 for a in band2_t], "lo": band2_lo, "hi": band2_hi, "v": band2_v})
bands = pd.concat([band1, band2])

xs = alt.Scale(domain=[0, T_MAX], nice=False, zero=False)
ys = alt.Scale(domain=[0, R_MAX], nice=False, zero=False)
cs = alt.Scale(domain=stops_v, range=stops_c, clamp=True)
color = alt.Color("v:Q", scale=cs, legend=None)

label_expr = " : ".join(f"datum.value == {m} ? '{l}'" for m, l in zip(x_major, x_labels)) + " : ''"
x_size = alt.expr("indexof([19,39,59,79,99,119], datum.value) >= 0 ? 6 : 3")
y_size = alt.expr("datum.value % 2 == 0 ? 8 : 4")
axis_common = dict(grid=False, domainColor="black", tickColor="black", domainWidth=1, tickWidth=1, zindex=1,
                   labelColor="black", titleColor="black", labelFont=FONT, titleFont=FONT, titleFontWeight="normal",
                   labelOverlap=False)
FS = 18.5

bg = alt.Chart(pd.DataFrame({"t": [0], "t2": [T_MAX], "r": [0.14], "r2": [R_MAX]})).mark_rect(color="#808080").encode(
    x=alt.X("t:Q", scale=xs, title="Time UTC",
            axis=alt.Axis(values=x_ticks, labelExpr=label_expr, tickSize=x_size, labelFontSize=FS, titleFontSize=FS,
                          labelPadding=9, titlePadding=-1, labelFlush=False, **axis_common)),
    x2="t2:Q",
    y=alt.Y("r:Q", scale=ys, title="Range km",
            axis=alt.Axis(values=y_ticks, labelExpr="datum.value % 2 == 0 ? datum.value : ''", tickSize=y_size,
                          labelFontSize=FS, titleFontSize=FS, labelPadding=5, titlePadding=13, labelFlush=True,
                          **axis_common)),
    y2="r2:Q",
)
frame = alt.Chart(pd.DataFrame({"t": [0], "r": [0]})).mark_point(opacity=0).encode(
    x=alt.X("t:Q", scale=xs, title=None,
            axis=alt.Axis(orient="top", values=x_ticks, labels=False, tickSize=x_size, **axis_common)),
    y=alt.Y("r:Q", scale=ys, title=None,
            axis=alt.Axis(orient="right", values=y_ticks, labels=False, tickSize=y_size, **axis_common)),
)
band_layer = alt.Chart(bands).mark_rect().encode(
    x=alt.X("t:Q", scale=xs, axis=None), x2="t2:Q",
    y=alt.Y("lo:Q", scale=ys, axis=None), y2="hi:Q", color=color,
)
run_layer = alt.Chart(runs).mark_rect(height=2).encode(
    x=alt.X("t:Q", scale=xs, axis=None), x2="t2:Q",
    y=alt.Y("r:Q", scale=ys, axis=None), color=color,
)
point_layer = alt.Chart(points).mark_rect(width=2.5, height=3).encode(
    x=alt.X("t:Q", scale=xs, axis=None),
    y=alt.Y("r:Q", scale=ys, axis=None), color=color,
)
lone_layer = alt.Chart(lone).mark_rect(width=2, height=2).encode(
    x=alt.X("t:Q", scale=xs, axis=None),
    y=alt.Y("r:Q", scale=ys, axis=None), color=color,
)
main = alt.layer(bg, band_layer, run_layer, point_layer, lone_layer, frame).resolve_scale(
    x="independent", y="independent"
).properties(width=801, height=532)

vs = alt.Scale(domain=[V_MIN, V_MAX], nice=False, zero=False)
grad = alt.Gradient(gradient="linear", x1=0, x2=0, y1=1, y2=0,
                    stops=[alt.GradientStop(color=c, offset=(v - V_MIN) / (V_MAX - V_MIN)) for v, c in zip(stops_v, stops_c)])
bar_rect = alt.Chart(pd.DataFrame({"a": [V_MIN], "b": [V_MAX]})).mark_rect(fill=grad, stroke="black", strokeWidth=1).encode(
    x=alt.value(0), x2=alt.value(20),
    y=alt.Y("a:Q", scale=vs, title="VELg m/s",
            axis=alt.Axis(orient="right", values=bar_labels, ticks=False, domain=False, labelFontSize=FS, titleFontSize=FS,
                          labelPadding=6, titlePadding=13, titleAngle=270, labelFont=FONT, titleFont=FONT,
                          titleFontWeight="normal", labelColor="black", titleColor="black", grid=False,
                          labelFlush=False, labelOverlap=False)),
    y2="b:Q",
)
bar_tick = alt.Chart(pd.DataFrame({"v": bar_ticks})).mark_rule(color="black", strokeWidth=1).encode(
    x=alt.value(17), x2=alt.value(20), y=alt.Y("v:Q", scale=vs, axis=None),
)
bar = alt.layer(bar_rect, bar_tick).resolve_scale(y="independent").properties(width=20, height=532)

chart = alt.hconcat(main, bar, spacing=0).properties(
    title=alt.TitleParams("Doppler Velocity VELg\u00a0\u00a0\u00a002:01 17.05.2025 - 04:00 17.05.2025 Huancayo",
                          font=FONT, fontSize=19, fontWeight="normal", color="black", anchor="middle", offset=10, dx=9),
    padding={"left": 95, "top": 91, "right": 0, "bottom": 0},
    background="white",
).configure_view(stroke=None)

chart.save("out.html", embed_options={"renderer": "svg", "actions": False})
